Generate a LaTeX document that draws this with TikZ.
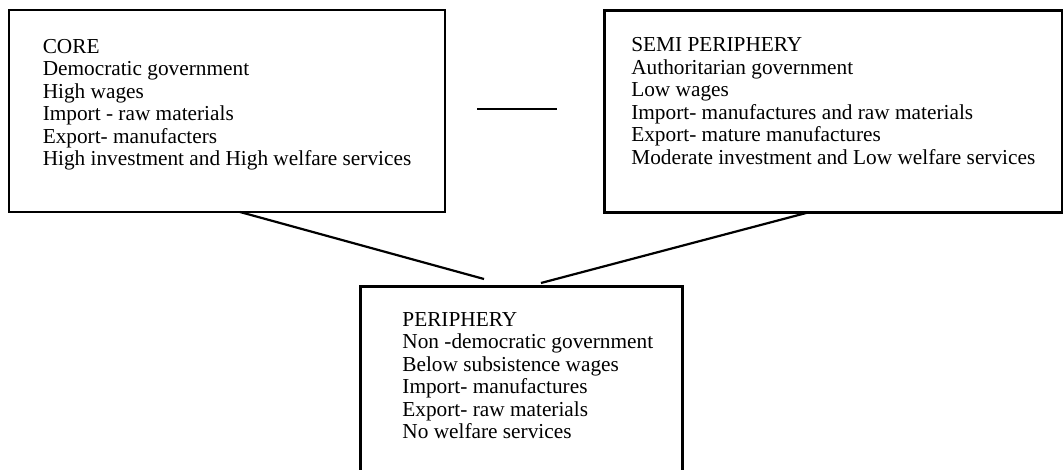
\documentclass[tikz,border=0pt]{standalone}
\usepackage{fontspec}
\setmainfont{Liberation Serif}
\usepackage{tikz}
\usetikzlibrary{positioning}

\begin{document}
\begin{tikzpicture}[
    x=0.5pt, y=-0.5pt,
    block/.style={rectangle, draw=black, line width=1.3pt, align=left, outer sep=0pt, minimum height=101pt, font=\fontsize{10.65}{11.25}\selectfont},
    blocktext/.style={align=left, inner sep=0pt, anchor=north west, font=\fontsize{10.65}{11.25}\selectfont},
    link/.style={line width=1.1pt, draw=black}
]
\clip (0,0) rectangle (1064,470);

% Row 1: the two upper boxes
\node[block, minimum width=218pt, text depth=8.8pt] (core) at (227,111) {CORE\\Democratic government\\High wages\\Import - raw materials\\Export- manufacters\\High investment and High welfare services};
\node[block, minimum width=228.65pt, text depth=10.5pt] (semi) at (833.3,111.5) {SEMI PERIPHERY\\Authoritarian government\\Low wages\\Import- manufactures and raw materials\\Export- mature manufactures\\Moderate investment and Low welfare services};

% Row 2: lower box, its text set from the top left corner
\node[block, minimum width=161pt, minimum height=96pt] (peri) at (521.3,382.7) {};
\node[blocktext] (periText) at ([xshift=20.85pt, yshift=-12.5pt]peri.north west) {PERIPHERY\\Non -democratic government\\Below subsistence wages\\Import- manufactures\\Export- raw materials\\No welfare services};

% Free ends of the lines
\coordinate (dashL) at (477,109);
\coordinate (dashR) at (557,109);
\coordinate (coreEnd) at (484,279);
\coordinate (semiEnd) at (541,283);

% Lines
\draw[link] (dashL) -- (dashR);
\draw[link] ([xshift=115.5pt]core.south west) -- (coreEnd);
\draw[link] ([xshift=101.7pt]semi.south west) -- (semiEnd);

\end{tikzpicture}
\end{document}
